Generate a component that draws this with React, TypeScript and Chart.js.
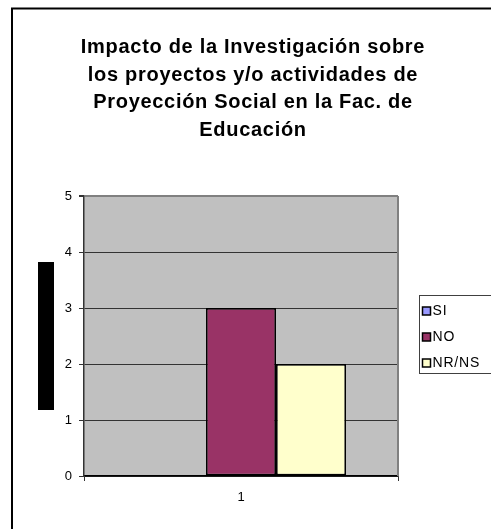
import React, { useEffect, useRef } from "react";
import { Chart, registerables } from "chart.js";

Chart.register(...registerables);

const categories = ["1"];
const seriesLabels = ["SI", "NO", "NR/NS"];
const siValues = [0];
const noValues = [3];
const nrnsValues = [2];
const seriesColors = ["#9999FF", "#993366", "#FFFFCC"];
const titleLines = [
  "Impacto de la Investigación sobre",
  "los proyectos y/o actividades de",
  "Proyección Social en la Fac. de",
  "Educación",
];
const yMin = 0;
const yMax = 5;
const yStep = 1;

const FONT = '"Liberation Sans", Arial, sans-serif';

const decorPlugin = {
  id: "excelDecor",
  beforeDraw(chart: any) {
    const { ctx, chartArea: a } = chart;
    ctx.save();
    ctx.fillStyle = "#FFFFFF";
    ctx.fillRect(0, 0, chart.width, chart.height);
    ctx.fillStyle = "#C0C0C0";
    ctx.fillRect(a.left, a.top, a.right - a.left, a.bottom - a.top);
    ctx.restore();
  },
  afterDraw(chart: any) {
    const { ctx, chartArea: a } = chart;
    ctx.save();
    // plot area right border
    ctx.strokeStyle = "#808080";
    ctx.lineWidth = 2;
    ctx.beginPath();
    ctx.moveTo(a.right, a.top);
    ctx.lineTo(a.right, a.bottom);
    ctx.stroke();

    // outer chart border (left + top)
    ctx.strokeStyle = "#000000";
    ctx.lineWidth = 2;
    ctx.beginPath();
    ctx.moveTo(12, chart.height + 2);
    ctx.lineTo(12, 8.5);
    ctx.lineTo(chart.width + 2, 8.5);
    ctx.stroke();

    // title
    ctx.fillStyle = "#000000";
    ctx.font = `bold 20px ${FONT}`;
    (ctx as any).letterSpacing = "0.7px";
    ctx.textAlign = "center";
    ctx.textBaseline = "alphabetic";
    titleLines.forEach((line, i) => {
      ctx.fillText(line, 253, 53 + i * 27.5);
    });
    (ctx as any).letterSpacing = "0px";

    // axis title block
    const midY = (a.top + a.bottom) / 2;
    ctx.fillStyle = "#000000";
    ctx.fillRect(a.left - 46, midY - 74, 16, 148);

    // legend
    const lx = a.right + 21.5;
    const ly = a.top + 99.5;
    const lw = 80;
    const lh = 78;
    ctx.strokeStyle = "#404040";
    ctx.lineWidth = 1;
    ctx.strokeRect(lx, ly, lw, lh);
    ctx.font = `14px ${FONT}`;
    (ctx as any).letterSpacing = "0.8px";
    ctx.textAlign = "left";
    ctx.textBaseline = "middle";
    chart.data.datasets.forEach((ds: any, i: number) => {
      const cy = ly + 15.5 + i * 26;
      ctx.fillStyle = ds.backgroundColor;
      ctx.fillRect(lx + 3, cy - 4, 8, 8);
      ctx.strokeStyle = "#000000";
      ctx.lineWidth = 1.5;
      ctx.strokeRect(lx + 3, cy - 4, 8, 8);
      ctx.fillStyle = "#000000";
      ctx.fillText(ds.label, lx + 13, cy + 0.5);
    });
    (ctx as any).letterSpacing = "0px";
    ctx.restore();
  },
};

export default function App() {
  const canvasRef = useRef<HTMLCanvasElement | null>(null);

  useEffect(() => {
    const canvas = canvasRef.current;
    if (!canvas) return;
    Chart.defaults.font.family = FONT;
    const valueSets = [siValues, noValues, nrnsValues];
    const chart = new Chart(canvas, {
      type: "bar",
      data: {
        labels: categories,
        datasets: seriesLabels.map((label, i) => ({
          label,
          data: valueSets[i],
          backgroundColor: seriesColors[i],
          borderColor: "#000000",
          borderWidth: 1.7,
          borderSkipped: false as any,
          categoryPercentage: 0.669,
          barPercentage: 1,
        })),
      },
      options: {
        animation: false,
        responsive: false,
        maintainAspectRatio: false,
        layout: { padding: { left: 0, right: 93, top: 196, bottom: 0 } },
        plugins: {
          legend: { display: false },
          title: { display: false },
          tooltip: { enabled: false },
        },
        scales: {
          x: {
            offset: true,
            grid: {
              display: true,
              drawOnChartArea: false,
              drawTicks: true,
              tickLength: 5,
              color: "#333333",
              offset: true,
            },
            border: { display: true, color: "#000000", width: 1.5 },
            ticks: {
              color: "#000000",
              font: { size: 13, family: FONT },
              padding: 9,
            },
            afterFit: (scale: any) => {
              scale.height = 53;
            },
          },
          y: {
            min: yMin,
            max: yMax,
            ticks: {
              stepSize: yStep,
              color: "#000000",
              font: { size: 13, family: FONT },
              padding: 7,
            },
            grid: {
              color: (c: any) => (c.tick && c.tick.value === yMax ? "#808080" : "#333333"),
              lineWidth: (c: any) => (c.tick && c.tick.value === yMax ? 2 : 1),
              tickColor: "#333333",
              tickLength: 5,
              drawTicks: true,
            },
            border: { display: true, color: "#333333", width: 1.5 },
            afterFit: (scale: any) => {
              scale.width = 84;
            },
          },
        },
      },
      plugins: [decorPlugin],
    });
    return () => chart.destroy();
  }, []);

  return (
    <div style={{ position: "fixed", left: 0, top: 0, width: 491, height: 529 }}>
      <canvas ref={canvasRef} width={491} height={529} style={{ width: 491, height: 529, display: "block" }} />
    </div>
  );
}
